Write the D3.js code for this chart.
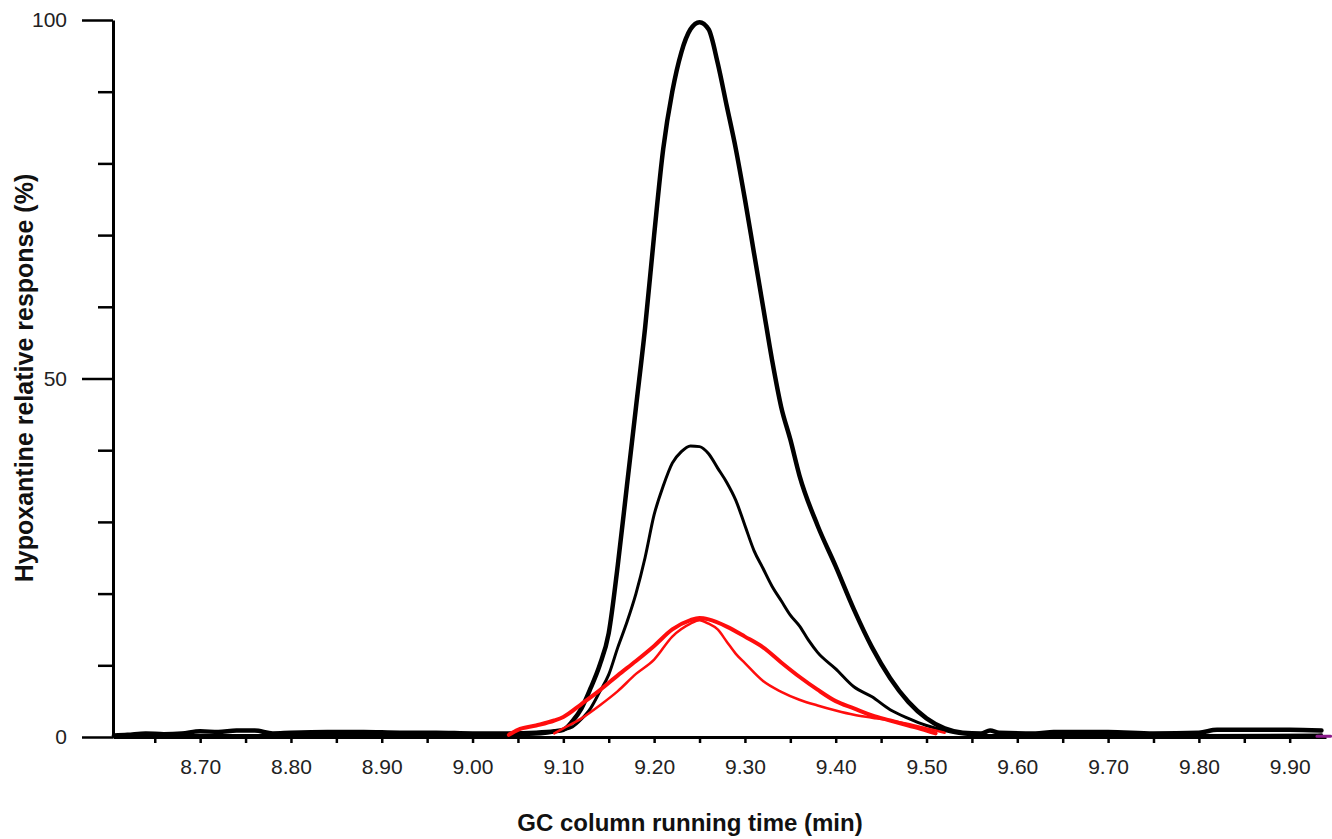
<!DOCTYPE html>
<html>
<head>
<meta charset="utf-8">
<script src="https://cdn.jsdelivr.net/npm/d3@7"></script>
<style>
  body { margin: 0; background: #fff; }
  text { font-family: "Liberation Sans", Arial, sans-serif; }
</style>
</head>
<body>
<script>
// chromatogram traces, [time (min), relative response (%)]
const blackHigh = [[8.605,0.2],[8.62,0.3],[8.64,0.5],[8.66,0.4],[8.68,0.5],[8.70,0.8],[8.72,0.7],[8.74,0.9],[8.76,0.9],
  [8.78,0.5],[8.80,0.6],[8.84,0.7],[8.88,0.7],[8.92,0.6],[8.96,0.6],[9.00,0.5],[9.04,0.5],[9.07,0.6],[9.09,0.8],
  [9.10,1.0],[9.11,2.2],[9.12,4.0],[9.13,6.8],[9.14,10],[9.15,14.5],[9.16,24],[9.17,35],[9.18,46],[9.19,57],
  [9.20,70],[9.21,82],[9.22,90],[9.23,95.5],[9.24,98.7],[9.25,99.7],[9.26,98.7],[9.27,94],[9.28,88],[9.29,82],
  [9.30,75],[9.31,67.5],[9.32,60],[9.33,52.5],[9.34,46],[9.35,41.5],[9.36,36.5],[9.38,29.5],[9.40,23.8],
  [9.42,17.8],[9.44,12.5],[9.46,8.2],[9.48,4.9],[9.50,2.6],[9.52,1.2],[9.54,0.6],[9.56,0.5],[9.57,0.9],
  [9.58,0.6],[9.62,0.5],[9.64,0.7],[9.70,0.7],[9.75,0.5],[9.80,0.6],[9.82,1.0],[9.86,1.0],[9.90,1.0],[9.935,0.9]];

const blackMid = [[8.605,0.1],[8.70,0.2],[8.80,0.2],[8.90,0.2],[9.00,0.2],[9.05,0.3],[9.08,0.5],[9.10,1.0],
  [9.11,1.4],[9.12,2.5],[9.13,4.0],[9.14,6.3],[9.15,8.7],[9.16,12.5],[9.17,16],[9.18,20],[9.19,25],[9.20,31],
  [9.21,35],[9.22,38.2],[9.23,39.8],[9.24,40.6],[9.25,40.5],[9.26,39.5],[9.27,37.5],[9.28,35.5],[9.29,33],
  [9.30,29.5],[9.31,26],[9.32,23.5],[9.33,21],[9.34,19],[9.35,17],[9.36,15.5],[9.37,13.5],[9.38,11.8],
  [9.40,9.5],[9.42,7],[9.44,5.6],[9.46,3.8],[9.48,2.6],[9.50,1.6],[9.52,0.9],[9.54,0.4],[9.56,0.2],
  [9.70,0.2],[9.80,0.2],[9.935,0.3]];

const redThick = [[9.04,0.3],[9.05,1.0],[9.07,1.6],[9.09,2.3],[9.10,2.8],[9.12,4.6],[9.14,6.5],[9.16,8.6],
  [9.18,10.6],[9.20,12.7],[9.22,15.0],[9.24,16.3],[9.25,16.6],[9.26,16.4],[9.28,15.4],[9.30,14.0],[9.32,12.5],
  [9.34,10.4],[9.36,8.4],[9.38,6.6],[9.40,5.0],[9.42,4.0],[9.44,3.0],[9.46,2.3],[9.48,1.6],[9.50,0.9],[9.51,0.5]];

const redThin = [[9.09,0.5],[9.10,1.2],[9.12,2.6],[9.14,4.4],[9.16,6.4],[9.18,8.8],[9.20,10.8],[9.22,14.0],
  [9.24,15.8],[9.25,16.3],[9.26,15.8],[9.27,15.0],[9.28,13.3],[9.29,11.6],[9.30,10.3],[9.32,7.8],[9.34,6.3],
  [9.36,5.2],[9.38,4.4],[9.40,3.7],[9.42,3.1],[9.44,2.7],[9.46,2.3],[9.48,1.8],[9.50,1.2],[9.52,0.6]];

const purpleEnd = [[9.93,0.1],[9.945,0.1]];

const xMajorTicks = [8.70,8.80,8.90,9.00,9.10,9.20,9.30,9.40,9.50,9.60,9.70,9.80,9.90];
const xMinorTicks = [8.65,8.75,8.85,8.95,9.05,9.15,9.25,9.35,9.45,9.55,9.65,9.75,9.85];
const yMajorTicks = [0,50,100];
const yMinorTicks = [10,20,30,40,60,70,80,90];

const canvWidth = 1332, canvHeight = 839;
const svg = d3.select("body").append("svg")
    .attr("width", canvWidth)
    .attr("height", canvHeight);

const xScale = d3.scaleLinear().domain([8.604, 9.94]).range([113, 1326]);
const yScale = d3.scaleLinear().domain([0, 100]).range([737, 20]);

// x axis: minor ticks, then major ticks with labels
svg.append("g")
    .attr("transform", "translate(0,737)")
    .call(d3.axisBottom(xScale).tickValues(xMinorTicks).tickSize(6).tickFormat(""))
    .call(g => g.select(".domain").remove());
const xAxis = svg.append("g")
    .attr("transform", "translate(0,737)")
    .call(d3.axisBottom(xScale).tickValues(xMajorTicks).tickSize(6).tickSizeOuter(0)
        .tickPadding(16).tickFormat(d3.format(".2f")));
xAxis.select(".domain").attr("stroke-width", 3);

// y axis
svg.append("g")
    .attr("transform", "translate(113,0)")
    .call(d3.axisLeft(yScale).tickValues(yMinorTicks).tickSize(15).tickFormat(""))
    .call(g => g.select(".domain").remove());
const yAxis = svg.append("g")
    .attr("transform", "translate(113,0)")
    .call(d3.axisLeft(yScale).tickValues(yMajorTicks).tickSize(31).tickSizeOuter(0).tickPadding(15));
yAxis.select(".domain").attr("stroke-width", 3);

svg.selectAll(".tick line").attr("stroke", "#000").attr("stroke-width", 2.5);
svg.selectAll(".tick text")
    .attr("font-size", "21px")
    .attr("fill", "#222")
    .attr("font-family", "'Liberation Sans', Arial, sans-serif");

// traces
const line = d3.line()
    .x(d => xScale(d[0]))
    .y(d => yScale(d[1]))
    .curve(d3.curveMonotoneX);

const traces = [
    {data: blackHigh, color: "#000", width: 4.5},
    {data: blackMid, color: "#000", width: 3},
    {data: redThick, color: "#ff0d0d", width: 4},
    {data: redThin, color: "#ff0d0d", width: 2.5},
    {data: purpleEnd, color: "#8a1a8a", width: 3}
];

svg.selectAll("path.trace")
    .data(traces)
    .enter()
    .append("path")
    .attr("class", "trace")
    .attr("d", d => line(d.data))
    .attr("fill", "none")
    .attr("stroke", d => d.color)
    .attr("stroke-width", d => d.width)
    .attr("stroke-linejoin", "round")
    .attr("stroke-linecap", "round");

// axis titles
svg.append("text")
    .attr("x", 690)
    .attr("y", 831)
    .attr("text-anchor", "middle")
    .attr("font-size", "24px")
    .attr("font-weight", "bold")
    .attr("fill", "#111")
    .text("GC column running time (min)");

svg.append("text")
    .attr("transform", "translate(33,378) rotate(-90)")
    .attr("text-anchor", "middle")
    .attr("font-size", "25px")
    .attr("font-weight", "bold")
    .attr("fill", "#111")
    .text("Hypoxantine relative response (%)");
</script>
</body>
</html>
